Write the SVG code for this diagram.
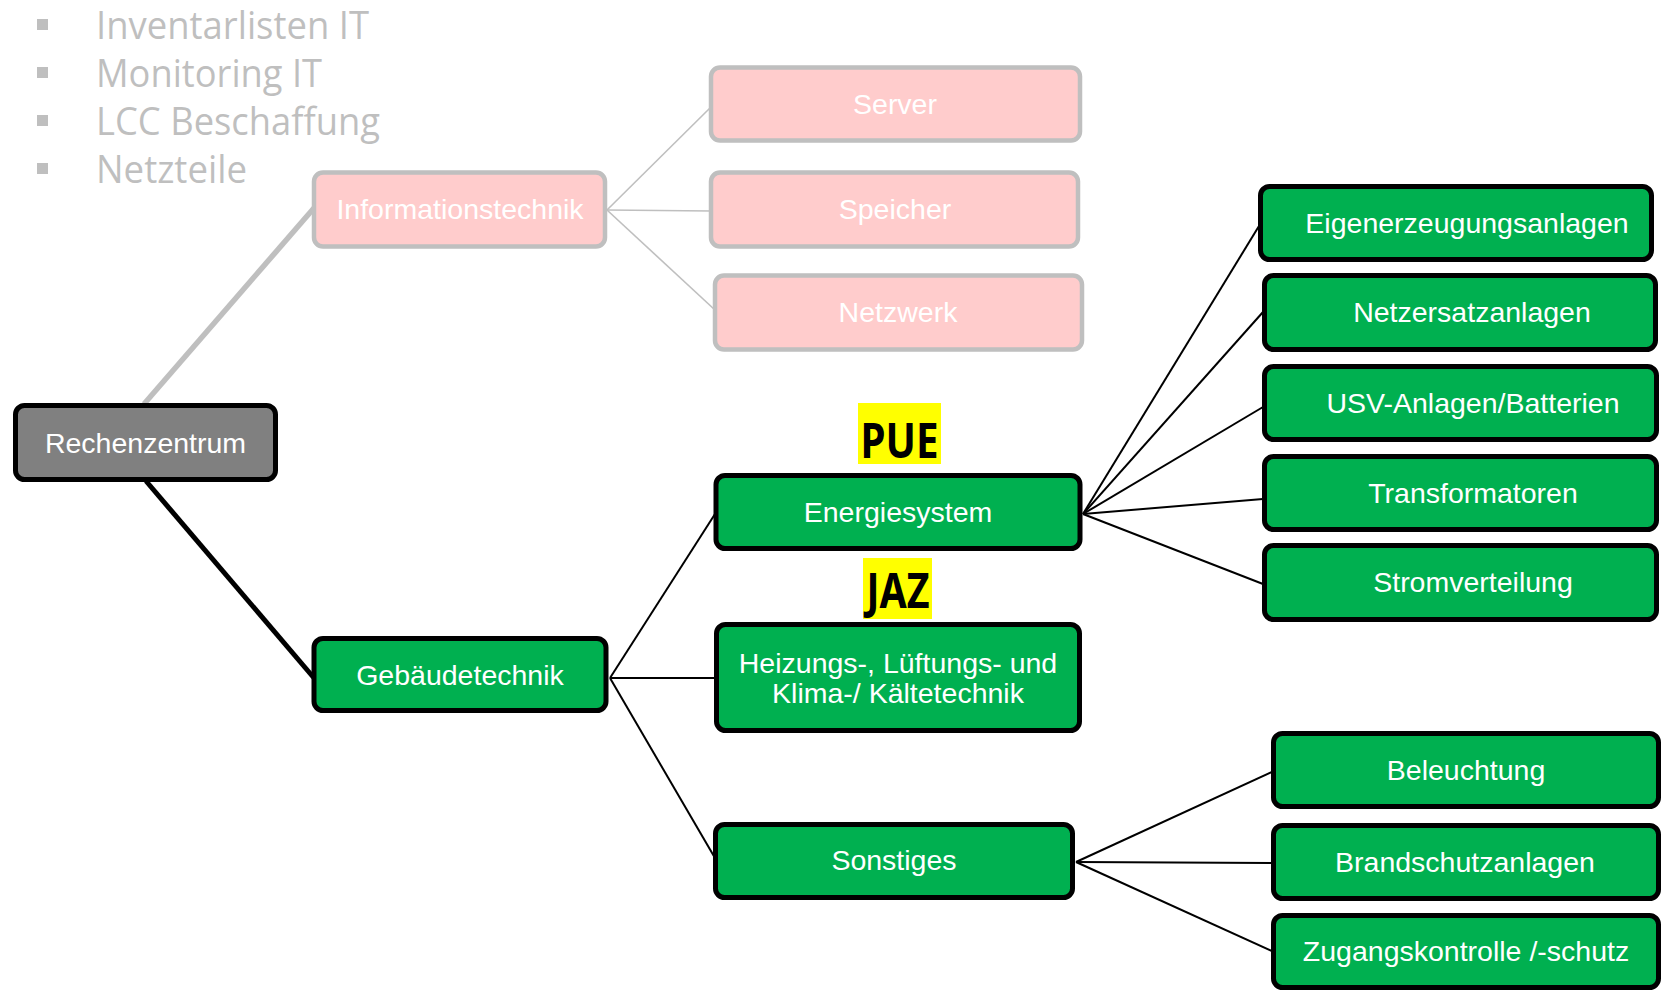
<svg xmlns="http://www.w3.org/2000/svg" width="1663" height="993" viewBox="0 0 1663 993">
<style>
.g{fill:#00b050;stroke:#000;stroke-width:5}
.p{fill:#ffcccc;stroke:#bfbfbf;stroke-width:4.5}
.r{fill:#808080;stroke:#000;stroke-width:5}
.t{font-family:"Liberation Sans",Arial,sans-serif;font-size:28.5px;fill:#fff;text-anchor:middle}
.b{font-family:"Open Sans","Noto Sans",sans-serif;font-size:38px;fill:#bfbfbf}
.k{font-family:"Noto Sans","Open Sans",sans-serif;font-size:48px;font-weight:bold;fill:#000;text-anchor:middle}
.cg{stroke:#bfbfbf;fill:none}
.cb{stroke:#000;fill:none}
</style>
<rect width="1663" height="993" fill="#fff"/>
<g id="bullets">
<rect x="37" y="19" width="11" height="11" fill="#bfbfbf"/>
<rect x="37" y="67" width="11" height="11" fill="#bfbfbf"/>
<rect x="37" y="115" width="11" height="11" fill="#bfbfbf"/>
<rect x="37" y="163" width="11" height="11" fill="#bfbfbf"/>
<text class="b" x="96" y="39" textLength="273" lengthAdjust="spacingAndGlyphs">Inventarlisten IT</text>
<text class="b" x="96" y="87" textLength="226" lengthAdjust="spacingAndGlyphs">Monitoring IT</text>
<text class="b" x="96" y="135" textLength="284" lengthAdjust="spacingAndGlyphs">LCC Beschaffung</text>
<text class="b" x="96" y="183" textLength="151" lengthAdjust="spacingAndGlyphs">Netzteile</text>
</g>
<g id="connectors">
<line class="cg" x1="144" y1="404" x2="314" y2="208" stroke-width="5.5"/>
<line class="cb" x1="146" y1="481" x2="314" y2="678" stroke-width="5"/>
<line class="cg" x1="607" y1="210" x2="710" y2="108" stroke-width="1.6"/>
<line class="cg" x1="607" y1="210" x2="711" y2="211" stroke-width="1.6"/>
<line class="cg" x1="607" y1="210" x2="715" y2="310" stroke-width="1.6"/>
<line class="cb" x1="610" y1="678" x2="715" y2="514" stroke-width="2"/>
<line class="cb" x1="610" y1="678" x2="716" y2="678" stroke-width="2"/>
<line class="cb" x1="610" y1="678" x2="715" y2="858" stroke-width="2"/>
<line class="cb" x1="1083" y1="514" x2="1259" y2="226" stroke-width="2"/>
<line class="cb" x1="1083" y1="514" x2="1263" y2="312" stroke-width="2"/>
<line class="cb" x1="1083" y1="514" x2="1263" y2="407" stroke-width="2"/>
<line class="cb" x1="1083" y1="514" x2="1263" y2="499" stroke-width="2"/>
<line class="cb" x1="1083" y1="514" x2="1263" y2="584" stroke-width="2"/>
<line class="cb" x1="1076" y1="862" x2="1272" y2="772" stroke-width="2"/>
<line class="cb" x1="1076" y1="862" x2="1272" y2="863" stroke-width="2"/>
<line class="cb" x1="1076" y1="862" x2="1272" y2="951" stroke-width="2"/>
</g>
<g id="rechenzentrum"><rect class="r" x="15.5" y="405.5" width="260" height="74" rx="9"/><text class="t" x="145.5" y="453">Rechenzentrum</text></g>
<g id="informationstechnik"><rect class="p" x="314" y="172.5" width="291" height="74" rx="9"/><text class="t" x="460" y="219">Informationstechnik</text></g>
<g id="server"><rect class="p" x="711" y="67.5" width="369" height="73" rx="9"/><text class="t" x="895" y="114">Server</text></g>
<g id="speicher"><rect class="p" x="711" y="172.5" width="367" height="74" rx="9"/><text class="t" x="895" y="219">Speicher</text></g>
<g id="netzwerk"><rect class="p" x="715" y="275.5" width="367" height="74" rx="9"/><text class="t" x="898" y="322">Netzwerk</text></g>
<g id="gebaeudetechnik"><rect class="g" x="314" y="638.5" width="292" height="72" rx="9"/><text class="t" x="460" y="685">Gebäudetechnik</text></g>
<g id="pue"><rect x="858" y="403" width="83" height="61" fill="#ffff00"/><text class="k" x="899.5" y="458" textLength="78" lengthAdjust="spacingAndGlyphs">PUE</text></g>
<g id="energiesystem"><rect class="g" x="716" y="475.5" width="364" height="73" rx="9"/><text class="t" x="898" y="522">Energiesystem</text></g>
<g id="jaz"><rect x="863" y="558" width="69" height="61" fill="#ffff00"/><text class="k" x="898" y="608" textLength="63" lengthAdjust="spacingAndGlyphs">JAZ</text></g>
<g id="hlk"><rect class="g" x="716.5" y="624.5" width="363" height="106" rx="9"/><text class="t" x="898" y="673">Heizungs-, Lüftungs- und</text><text class="t" x="898" y="703">Klima-/ Kältetechnik</text></g>
<g id="sonstiges"><rect class="g" x="715.5" y="824.5" width="357" height="73" rx="9"/><text class="t" x="894" y="870">Sonstiges</text></g>
<g id="eigenerzeugungsanlagen"><rect class="g" x="1260.5" y="186.5" width="391" height="73" rx="9"/><text class="t" x="1467" y="233">Eigenerzeugungsanlagen</text></g>
<g id="netzersatzanlagen"><rect class="g" x="1264.5" y="275.5" width="391" height="74" rx="9"/><text class="t" x="1472" y="322">Netzersatzanlagen</text></g>
<g id="usv"><rect class="g" x="1264.5" y="366.5" width="392" height="73" rx="9"/><text class="t" x="1473" y="413">USV-Anlagen/Batterien</text></g>
<g id="transformatoren"><rect class="g" x="1264.5" y="456.5" width="392" height="73" rx="9"/><text class="t" x="1473" y="503">Transformatoren</text></g>
<g id="stromverteilung"><rect class="g" x="1264.5" y="545.5" width="392" height="74" rx="9"/><text class="t" x="1473" y="592">Stromverteilung</text></g>
<g id="beleuchtung"><rect class="g" x="1273.5" y="733.5" width="385" height="73" rx="9"/><text class="t" x="1466" y="780">Beleuchtung</text></g>
<g id="brandschutzanlagen"><rect class="g" x="1273.5" y="825.5" width="385" height="73" rx="9"/><text class="t" x="1465" y="872">Brandschutzanlagen</text></g>
<g id="zugangskontrolle"><rect class="g" x="1273.5" y="915.5" width="385" height="72" rx="9"/><text class="t" x="1466" y="961">Zugangskontrolle /-schutz</text></g>
</svg>
